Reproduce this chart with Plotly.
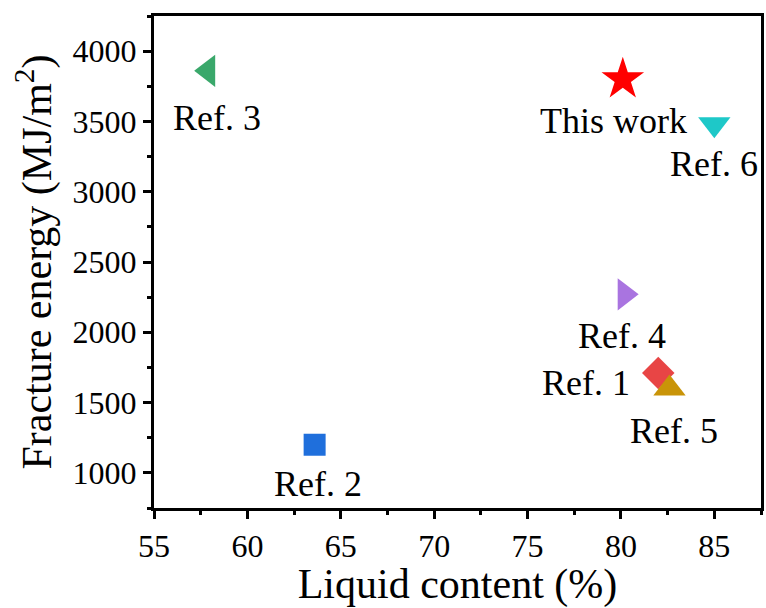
import plotly.graph_objects as go

# ---- data ----
labels = ["Ref. 1", "Ref. 2", "Ref. 3", "Ref. 4", "Ref. 5", "Ref. 6", "This work"]
liquid_content = [82.0, 63.6, 57.9, 80.2, 82.6, 85.0, 80.1]
fracture_energy = [1710, 1200, 3860, 2270, 1600, 3480, 3800]

# ---- styles ----
symbols = ["diamond", "square", "triangle-left", "triangle-right", "triangle-up", "triangle-down", "star"]
colors = ["#e84545", "#1f6fdc", "#3aa86b", "#a974e0", "#c99408", "#1ec8c8", "#ff0000"]
sizes = [25, 22, 28, 28, 28, 28, 32]
label_shift = [(-72, -10), (3, -39), (9, -47), (-3, -42), (5, -42), (0, -40), (-9, -42)]

FONT = "Liberation Serif, Times New Roman, serif"

fig = go.Figure()
fig.add_trace(go.Scatter(
    x=liquid_content, y=fracture_energy, mode="markers",
    marker=dict(symbol=symbols, color=colors, size=sizes, opacity=1, line=dict(width=0)),
    showlegend=False, hoverinfo="skip",
))

for lab, x, y, (dx, dy) in zip(labels, liquid_content, fracture_energy, label_shift):
    fig.add_annotation(x=x, y=y, text=lab, showarrow=False, xshift=dx, yshift=dy,
                       font=dict(family=FONT, size=36, color="black"))

axis_common = dict(
    showline=True, linecolor="black", linewidth=3, mirror=True,
    ticks="outside", ticklen=8, tickwidth=3, tickcolor="black",
    showgrid=False, zeroline=False,
    tickfont=dict(family=FONT, size=32, color="black"),
)

fig.update_xaxes(
    range=[55, 87.5], tickmode="array", tickvals=[55, 60, 65, 70, 75, 80, 85],
    minor=dict(ticks="outside", ticklen=4, tickwidth=3, tickcolor="black", dtick=2.5, tick0=55),
    title=dict(text="Liquid content (%)", font=dict(family=FONT, size=42, color="black"), standoff=0),
    **axis_common,
)
fig.update_yaxes(
    range=[750, 4250], tickmode="array", tickvals=[1000, 1500, 2000, 2500, 3000, 3500, 4000],
    minor=dict(ticks="outside", ticklen=4, tickwidth=3, tickcolor="black", dtick=250, tick0=750),
    title=dict(text="Fracture energy (MJ/m<sup>2</sup>)", font=dict(family=FONT, size=42, color="black"), standoff=8),
    **axis_common,
)

fig.update_layout(
    width=766, height=608,
    margin=dict(l=154, r=2, t=16, b=100),
    plot_bgcolor="white", paper_bgcolor="white",
)

fig.write_html("out.html")
